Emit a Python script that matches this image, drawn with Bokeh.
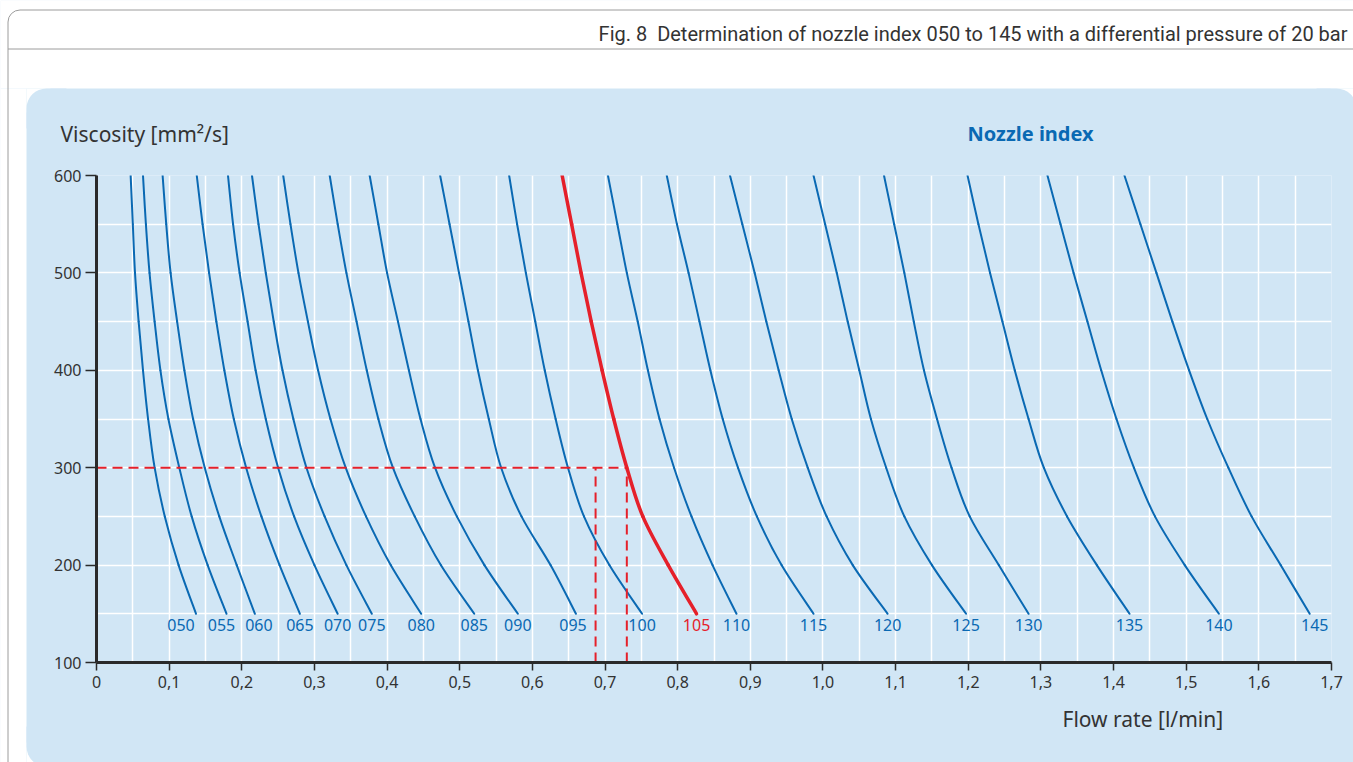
import numpy as np
from bokeh.plotting import figure
from bokeh.models import Range1d, FixedTicker, CustomJSTickFormatter, ColumnDataSource
from bokeh.core.properties import value
from bokeh.embed import file_html
from bokeh.resources import INLINE

# ---------------- data ----------------
viscosity = [600, 550, 500, 450, 400, 350, 300, 250, 200, 150]   # mm²/s

nozzle_index = ["050", "055", "060", "065", "070", "075", "080", "085", "090", "095",
                "100", "105", "110", "115", "120", "125", "130", "135", "140", "145"]

flow_050 = [0.047, 0.050, 0.053, 0.058, 0.064, 0.071, 0.080, 0.094, 0.113, 0.137]
flow_055 = [0.064, 0.068, 0.073, 0.080, 0.088, 0.099, 0.114, 0.131, 0.153, 0.179]
flow_060 = [0.091, 0.096, 0.102, 0.111, 0.121, 0.133, 0.149, 0.169, 0.193, 0.218]
flow_065 = [0.138, 0.146, 0.155, 0.165, 0.176, 0.189, 0.206, 0.227, 0.252, 0.280]
flow_070 = [0.181, 0.188, 0.197, 0.208, 0.219, 0.233, 0.250, 0.272, 0.300, 0.332]
flow_075 = [0.214, 0.223, 0.233, 0.244, 0.256, 0.271, 0.289, 0.314, 0.344, 0.379]
flow_080 = [0.257, 0.267, 0.278, 0.291, 0.305, 0.322, 0.343, 0.371, 0.405, 0.447]
flow_085 = [0.321, 0.332, 0.344, 0.358, 0.372, 0.388, 0.408, 0.438, 0.474, 0.520]
flow_090 = [0.376, 0.388, 0.400, 0.415, 0.430, 0.446, 0.466, 0.496, 0.534, 0.580]
flow_095 = [0.473, 0.486, 0.499, 0.512, 0.525, 0.540, 0.557, 0.585, 0.625, 0.660]
flow_100 = [0.568, 0.579, 0.591, 0.604, 0.617, 0.632, 0.649, 0.671, 0.706, 0.751]
flow_105 = [0.641, 0.654, 0.667, 0.681, 0.696, 0.712, 0.730, 0.752, 0.787, 0.826]
flow_110 = [0.704, 0.717, 0.730, 0.745, 0.759, 0.775, 0.795, 0.819, 0.848, 0.881]
flow_115 = [0.785, 0.799, 0.815, 0.830, 0.845, 0.862, 0.883, 0.909, 0.943, 0.987]
flow_120 = [0.872, 0.889, 0.906, 0.922, 0.939, 0.957, 0.979, 1.005, 1.041, 1.089]
flow_125 = [0.987, 1.003, 1.019, 1.034, 1.050, 1.066, 1.087, 1.112, 1.150, 1.197]
flow_130 = [1.084, 1.098, 1.112, 1.125, 1.139, 1.157, 1.177, 1.202, 1.242, 1.283]
flow_135 = [1.199, 1.214, 1.230, 1.247, 1.264, 1.283, 1.304, 1.336, 1.377, 1.422]
flow_140 = [1.309, 1.327, 1.345, 1.364, 1.383, 1.404, 1.428, 1.457, 1.498, 1.545]
flow_145 = [1.415, 1.437, 1.459, 1.481, 1.504, 1.529, 1.558, 1.590, 1.630, 1.670]

flows = [flow_050, flow_055, flow_060, flow_065, flow_070, flow_075, flow_080, flow_085,
         flow_090, flow_095, flow_100, flow_105, flow_110, flow_115, flow_120, flow_125,
         flow_130, flow_135, flow_140, flow_145]

highlight = "105"                 # selected nozzle (red)
target_viscosity = 300            # red dashed reading line
read_flows = [0.687, 0.730]       # vertical dashed readings

x_ticks = [0, 0.1, 0.2, 0.3, 0.4, 0.5, 0.6, 0.7, 0.8, 0.9, 1.0, 1.1, 1.2, 1.3, 1.4, 1.5, 1.6, 1.7]
y_ticks = [100, 200, 300, 400, 500, 600]

title_text = "Fig. 8\u00a0\u00a0Determination of nozzle index 050 to 145 with a differential pressure of 20 bar"
y_title = "Viscosity [mm²/s]"
x_title = "Flow rate [l/min]"
legend_title = "Nozzle index"

# ---------------- style / layout ----------------
BLUE = "#0a69b3"
RED = "#e5202a"
PANEL = "#d1e6f5"
DARK = "#2a2a2a"
TXT = "#333333"
GREY = "#9c9c9c"
label_dx = {"050": -15, "055": -5, "060": 4, "095": -3, "145": 5}

W, H = 1353, 762
ML, MR, MT, MB = 96, 22, 175, 100
X0, X1, Y0, Y1 = 0, 1.7, 100, 600
p = figure(width=W, height=H, x_range=Range1d(X0, X1), y_range=Range1d(Y0, Y1),
           output_backend="svg", toolbar_location=None,
           min_border_left=ML, min_border_right=MR, min_border_top=MT, min_border_bottom=MB)
p.border_fill_color = PANEL
p.background_fill_color = PANEL
p.outline_line_color = None

# page pixel -> data units (only to place decorations/texts outside the frame)
KX = (W - ML - MR) / (X1 - X0)
KY = (H - MT - MB) / (Y1 - Y0)
def dx(px):
    return X0 + (px - ML) / KX
def dy(py):
    return Y1 - (py - MT) / KY

# grid
p.xgrid.ticker = FixedTicker(ticks=list(np.round(np.arange(0.05, 1.7001, 0.05), 2)))
p.ygrid.ticker = FixedTicker(ticks=list(range(150, 601, 50)))
for g in (p.xgrid, p.ygrid):
    g.grid_line_color = "white"
    g.grid_line_width = 1.5
    g.grid_line_alpha = 1

# axes
p.xaxis.ticker = FixedTicker(ticks=x_ticks)
p.xaxis.formatter = CustomJSTickFormatter(code="return tick == 0 ? '0' : tick.toFixed(1).replace('.', ',')")
p.yaxis.ticker = FixedTicker(ticks=y_ticks)
for ax in (p.xaxis, p.yaxis):
    ax.axis_line_width = 3
    ax.axis_line_color = DARK
    ax.major_tick_line_color = DARK
    ax.major_tick_line_width = 1.5
    ax.major_tick_in = 0
    ax.minor_tick_line_color = None
    ax.major_label_text_font = "Noto Sans"
    ax.major_label_text_font_size = "16px"
    ax.major_label_text_color = TXT
p.xaxis.major_tick_out = 8
p.yaxis.major_tick_out = 11
p.xaxis.major_label_standoff = 5
p.yaxis.major_label_standoff = 4

# smooth drawing through the read points (Catmull-Rom rendered as cubic Bezier segments)
def bezier_source(xs, ys):
    n = len(xs)
    P = list(zip(xs, ys))
    d = dict(x0=[], y0=[], x1=[], y1=[], cx0=[], cy0=[], cx1=[], cy1=[])
    for i in range(n - 1):
        pm, pa, pb, pn = P[max(i - 1, 0)], P[i], P[i + 1], P[min(i + 2, n - 1)]
        d["x0"].append(pa[0]); d["y0"].append(pa[1])
        d["x1"].append(pb[0]); d["y1"].append(pb[1])
        d["cx0"].append(pa[0] + (pb[0] - pm[0]) / 6); d["cy0"].append(pa[1] + (pb[1] - pm[1]) / 6)
        d["cx1"].append(pb[0] - (pn[0] - pa[0]) / 6); d["cy1"].append(pb[1] - (pn[1] - pa[1]) / 6)
    return ColumnDataSource(d)

for name, f in zip(nozzle_index, flows):
    if name != highlight:
        p.bezier("x0", "y0", "x1", "y1", "cx0", "cy0", "cx1", "cy1", source=bezier_source(f, viscosity),
                 line_color=BLUE, line_width=2, line_cap="round")

# dashed reading lines
i_h = nozzle_index.index(highlight)
seg = ColumnDataSource(dict(
    x0=[0] + read_flows, y0=[target_viscosity, Y0, Y0],
    x1=[max(read_flows)] + read_flows, y1=[target_viscosity] * 3))
p.segment("x0", "y0", "x1", "y1", source=seg, line_color=RED, line_width=2, line_dash="10 6")

p.bezier("x0", "y0", "x1", "y1", "cx0", "cy0", "cx1", "cy1", source=bezier_source(flows[i_h], viscosity),
         line_color=RED, line_width=3.5, line_cap="round")

# nozzle labels at the lower end of each curve
lab = ColumnDataSource(dict(
    x=[f[-1] for f in flows], y=[viscosity[-1]] * len(flows), t=nozzle_index,
    dx=[label_dx.get(n, 0) for n in nozzle_index],
    c=[RED if n == highlight else BLUE for n in nozzle_index]))
p.text("x", "y", text="t", source=lab, x_offset="dx", y_offset=5,
       text_align="center", text_baseline="top", text_color="c",
       text_font=value("Noto Sans"), text_font_size="16px")

# ---------- page decoration (drawn at annotation level, outside the plot frame) ----------
def deco_quad(l, t, r, b, fill, line=None, radius=0):
    p.quad(left=[dx(l)], right=[dx(r)], top=[dy(t)], bottom=[dy(b)],
           fill_color=fill, line_color=line, line_width=1, border_radius=radius, level="annotation")

deco_quad(0, 0, W, 88, "white")                      # white header area
deco_quad(0, 88, 26, H, "white")                     # white left margin
deco_quad(7.5, 9.5, 1500, 48.5, "white", GREY, (12, 0, 0, 0))   # outer box + header rule
p.segment(x0=[dx(7.5)], y0=[dy(48.5)], x1=[dx(7.5)], y1=[dy(H + 5)],
          line_color=GREY, line_width=1, level="annotation")
# rounded corners of the blue panel
deco_quad(26, 88, 50, 112, "white")
deco_quad(26, 88, 66, 128, PANEL, None, (20, 0, 0, 0))
deco_quad(1330, 88, W, 112, "white")
deco_quad(1316, 88, 1356, 128, PANEL, None, (0, 20, 0, 0))
deco_quad(26, 742, 50, H, "white")
deco_quad(26, 726, 66, 766, PANEL, None, (0, 0, 0, 20))

# texts
def deco_text(px, py, txt, size, color=TXT, font="Noto Sans", style="normal", align="left"):
    p.text(x=[dx(px)], y=[dy(py)], text=[txt], text_font=value(font), text_font_size=size,
           text_font_style=style, text_color=color, text_align=align, text_baseline="middle",
           level="annotation")

deco_text(1347, 33, title_text, "20px", font="Roboto", align="right")
deco_text(60, 133, y_title, "21px")
deco_text(967, 133, legend_title, "20px", color=BLUE, style="bold")
deco_text(1062, 718, x_title, "21px")

open("out.html", "w").write(file_html(p, INLINE))
